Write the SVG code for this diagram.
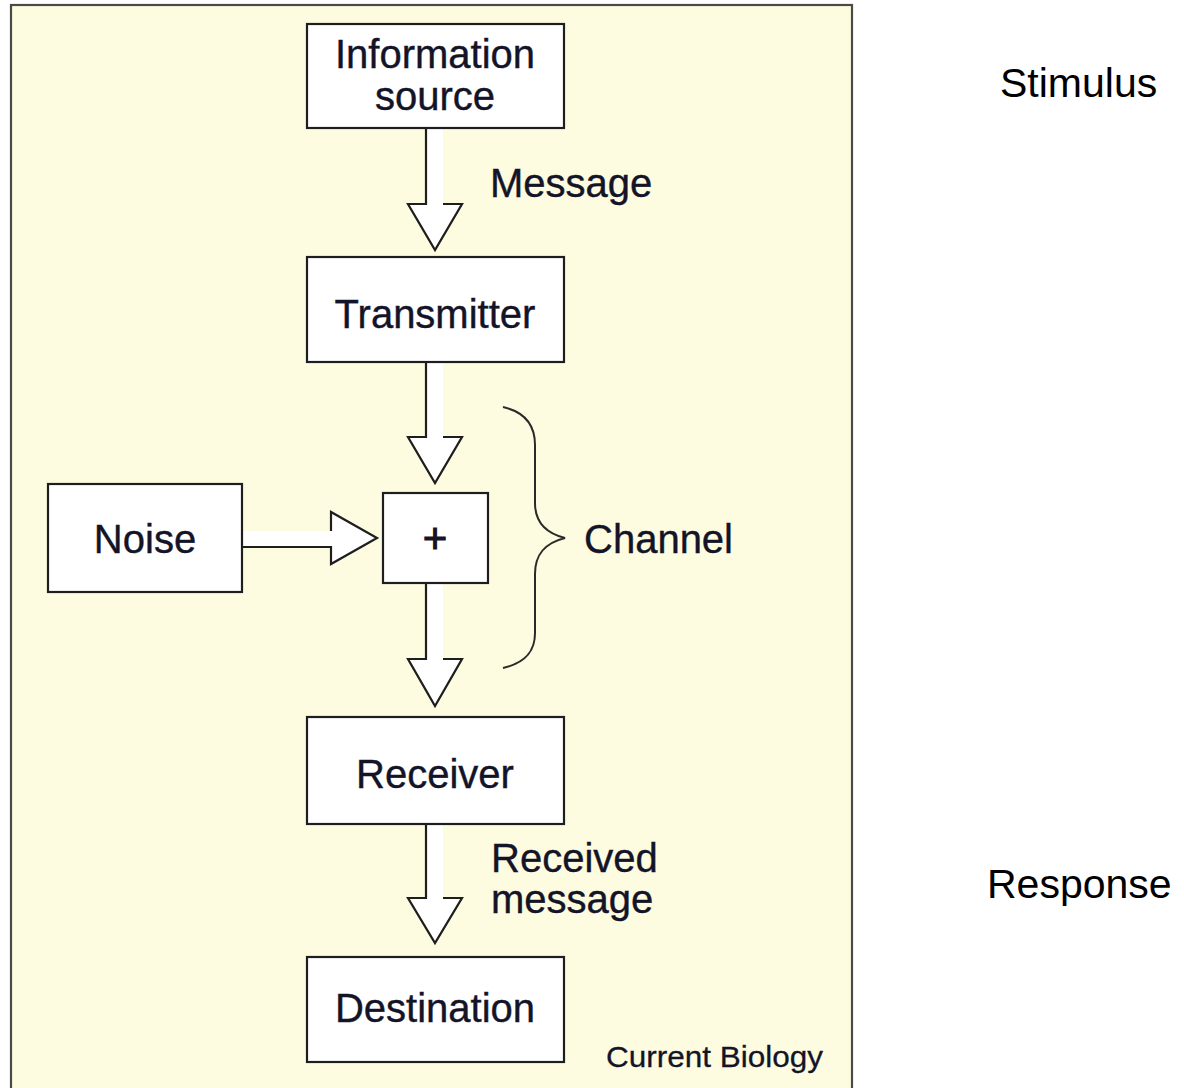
<svg xmlns="http://www.w3.org/2000/svg" width="1184" height="1088" viewBox="0 0 1184 1088">
<style>
.box{fill:#ffffff;stroke:#1e1e1e;stroke-width:2.2}
.t{font-family:"Liberation Sans",Arial,sans-serif;font-size:40px;fill:#141428;stroke:#141428;stroke-width:0.4;text-anchor:middle}
.lbl{font-family:"Liberation Sans",Arial,sans-serif;font-size:40px;fill:#141428;stroke:#141428;stroke-width:0.4}
.side{font-family:"Liberation Sans",Arial,sans-serif;font-size:41px;fill:#000000}
.af{fill:#ffffff;stroke:none}
.as{fill:none;stroke:#1e1e1e;stroke-width:2.2;stroke-linejoin:miter}
</style>
<rect x="0" y="0" width="1184" height="1088" fill="#ffffff"/>
<rect id="panel" x="11" y="5" width="841" height="1095" fill="#fefce0" stroke="#4a4a4a" stroke-width="2.2"/>
<g id="connectors">
  <path class="af" d="M426,128 H443 V204 H462 L435,250 L408,204 H426 Z"/>
  <path class="as" d="M426,128 V204 H408 L435,250 L462,204 H443"/>
  <path class="af" d="M426,362 H443 V437 H462 L435,483 L408,437 H426 Z"/>
  <path class="as" d="M426,362 V437 H408 L435,483 L462,437 H443"/>
  <path class="af" d="M426,583 H443 V659 H462 L435,706 L408,659 H426 Z"/>
  <path class="as" d="M426,583 V659 H408 L435,706 L462,659 H443"/>
  <path class="af" d="M426,824 H443 V898 H462 L435,943 L408,898 H426 Z"/>
  <path class="as" d="M426,824 V898 H408 L435,943 L462,898 H443"/>
  <path class="af" d="M242,531 H331 V512 L377,538 L331,564 V547 H242 Z"/>
  <path class="as" d="M242,547 H331 V564 L377,538 L331,512 V531"/>
  <path fill="none" stroke="#2a2a2a" stroke-width="2" d="M503,407 C525,412 535,425 535,445 V503 C535,522 545,533 565,538 C545,543 535,554 535,574 V633 C535,652 525,663 503,668"/>
</g>
<g id="info-source">
  <rect class="box" x="307" y="24" width="257" height="104"/>
  <text class="t" x="435" y="68">Information</text>
  <text class="t" x="435" y="110">source</text>
</g>
<g id="transmitter">
  <rect class="box" x="307" y="257" width="257" height="105"/>
  <text class="t" x="435" y="328">Transmitter</text>
</g>
<g id="noise">
  <rect class="box" x="48" y="484" width="194" height="108"/>
  <text class="t" x="145" y="553">Noise</text>
</g>
<g id="plus">
  <rect class="box" x="383" y="493" width="105" height="90"/>
  <text class="t" x="435" y="553" style="font-size:42px;stroke-width:1">+</text>
</g>
<g id="receiver">
  <rect class="box" x="307" y="717" width="257" height="107"/>
  <text class="t" x="435" y="788">Receiver</text>
</g>
<g id="destination">
  <rect class="box" x="307" y="957" width="257" height="105"/>
  <text class="t" x="435" y="1022">Destination</text>
</g>
<g id="labels">
  <text class="lbl" x="490" y="197">Message</text>
  <text class="lbl" x="584" y="553">Channel</text>
  <text class="lbl" x="491" y="872">Received</text>
  <text class="lbl" x="491" y="913">message</text>
  <text class="lbl" x="606" y="1067" style="font-size:30px;stroke-width:0.3" textLength="217" lengthAdjust="spacingAndGlyphs">Current Biology</text>
  <text class="side" x="1000" y="97">Stimulus</text>
  <text class="side" x="987" y="898">Response</text>
</g>
</svg>
